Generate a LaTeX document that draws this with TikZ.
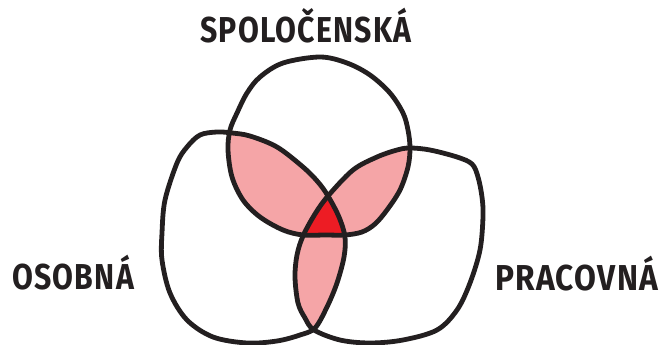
\documentclass[tikz,border=0pt]{standalone}
\usepackage{fontspec}
\newfontfamily\hand{Fira Sans}[LetterSpace=4]
\definecolor{inkc}{HTML}{231F20}
\definecolor{pinkc}{HTML}{F5A5A7}
\definecolor{redc}{HTML}{ED1C24}
\tikzset{
  outline/.style={draw=inkc, line width=4.8pt, line join=round},
  lbl/.style={inner sep=0pt, font=\hand\bfseries\fontsize{36}{36}\selectfont, text=inkc, anchor=base west},
}
\def\Tpath{plot[smooth cycle, tension=0.55] coordinates {(320,57) (347,63) (370,75) (390,93) (403,113) (408,130) (410,148) (408,167) (400,190) (387,210) (375,224) (362,232) (345,235) (325,235) (303,235) (283,230) (260,217) (243,200) (232,177) (228,150) (230,130) (237,113) (247,93) (260,77) (283,63)}}
\def\Lpath{plot[smooth cycle, tension=0.55] coordinates {(217,132) (232,133) (250,136) (277,147) (303,167) (318,182) (328,196) (339,217) (345,237) (344,257) (337,283) (327,307) (315,328) (300,335) (277,341) (247,343) (213,337) (187,320) (170,293) (162,260) (162,233) (165,200) (177,163) (187,147) (200,135)}}
\def\Rpath{plot[smooth cycle, tension=0.55] coordinates {(410,148) (430,150) (457,157) (472,164) (478,177) (482,197) (483,217) (480,250) (470,283) (457,310) (437,330) (403,340) (370,343) (340,340) (314,330) (305,318) (298,303) (295,277) (297,255) (303,236) (315,214) (328,196) (353,170) (377,157) (397,150)}}
\begin{document}
\begin{tikzpicture}[x=1pt, y=-1pt]
\useasboundingbox (0,0) rectangle (665,345);
\begin{scope}
  \clip \Tpath;
  \fill[pinkc] \Lpath;
  \fill[pinkc] \Rpath;
\end{scope}
\begin{scope}
  \clip \Lpath;
  \fill[pinkc] \Rpath;
\end{scope}
\begin{scope}
  \clip \Tpath;
  \clip \Lpath;
  \fill[redc] \Rpath;
\end{scope}
\draw[outline] \Tpath;
\draw[outline] \Lpath;
\draw[outline] \Rpath;
\node[lbl] (spol) at (200,43) {\scalebox{0.84}[1]{SPOLOČENSKÁ}};
\node[lbl] (osob) at (12,289) {\scalebox{0.84}[1]{OSOBNÁ}};
\node[lbl] (prac) at (495,290) {\scalebox{0.88}[1]{PRACOVNÁ}};
\end{tikzpicture}
\end{document}
